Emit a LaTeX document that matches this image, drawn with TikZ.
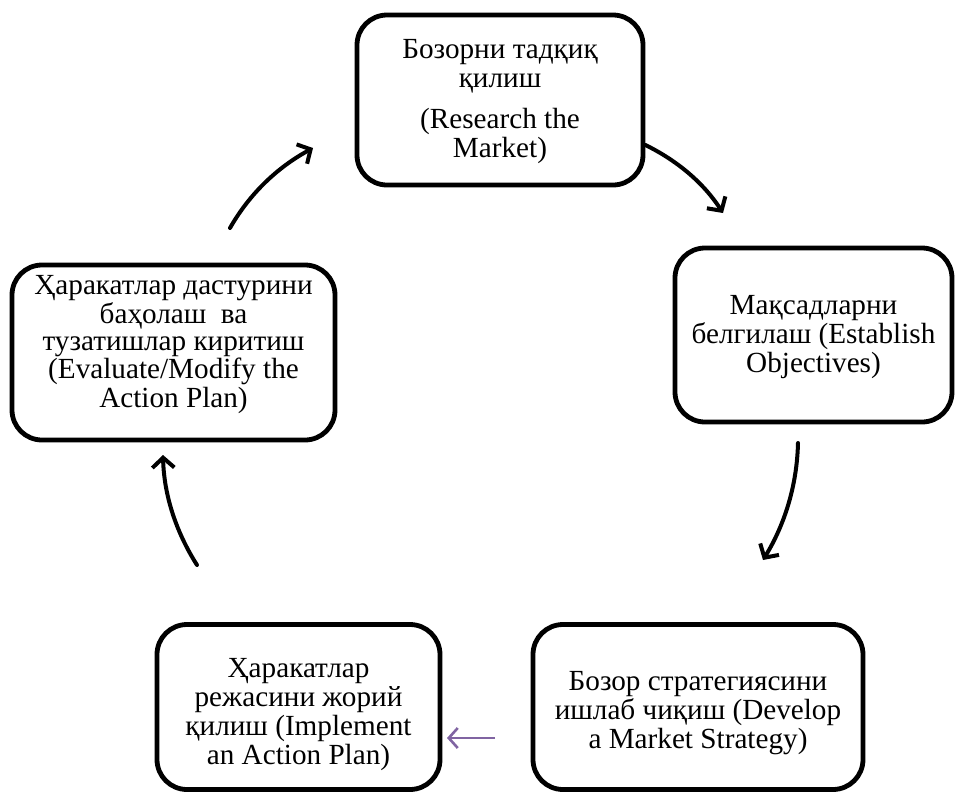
\documentclass[tikz,border=0pt]{standalone}
\usepackage{fontspec}
\setmainfont{Liberation Serif}
\usetikzlibrary{arrows.meta}
\definecolor{arrowpurple}{RGB}{128,100,162}
\begin{document}
\begin{tikzpicture}[x=0.5pt,y=-0.5pt,
  stage/.style={draw=black, line width=2.4pt, rounded corners=15pt, inner sep=0pt},
  stagetext/.style={align=center, inner sep=0pt,
    font=\fontsize{14.6}{14.5}\selectfont},
  flow/.style={line width=2pt, line cap=round,
    -{Straight Barb[length=5pt,width=11pt,line width=2pt]}},
  sideflow/.style={draw=arrowpurple, line width=1.3pt,
    -{Straight Barb[length=4.5pt,width=10pt,line width=1.3pt]}}]
\useasboundingbox (0,0) rectangle (955,794);

% the five stage frames
\node[stage, minimum width=143pt, minimum height=85pt] (research) at (500,100) {};
\node[stage, minimum width=138.5pt, minimum height=87pt] (objectives) at (813.5,335) {};
\node[stage, minimum width=165pt, minimum height=82.5pt] (strategy) at (698,707) {};
\node[stage, minimum width=141.5pt, minimum height=82.5pt] (implement) at (298.5,707) {};
\node[stage, minimum width=161.5pt, minimum height=87.5pt] (evaluate) at (173.5,352.5) {};

% their labels
\node[stagetext] (research-t) at ([yshift=-1pt]research.center)
  {Бозорни тадқиқ\\ қилиш\\[6pt] (Research the\\ Market)};
\node[stagetext] (objectives-t) at ([yshift=-1pt]objectives.center)
  {Мақсадларни\\ белгилаш (Establish\\ Objectives)};
\node[stagetext] (strategy-t) at ([yshift=-3pt]strategy.center)
  {Бозор стратегиясини\\ ишлаб чиқиш (Develop\\ a Market Strategy)};
\node[stagetext] (implement-t) at ([yshift=-4pt]implement.center)
  {Ҳаракатлар\\ режасини жорий\\ қилиш (Implement\\ an Action Plan)};
\node[stagetext, font=\fontsize{14.6}{13.2}\selectfont] (evaluate-t) at ([yshift=4pt]evaluate.center)
  {Ҳаракатлар дастурини\\ баҳолаш\ \ ва\\ тузатишлар киритиш\\ (Evaluate/Modify the\\ Action Plan)};

% free ends of the curved arrows
\coordinate (a1s) at (230,228);  \coordinate (a1e) at (313,148);
\coordinate (a2s) at (research.east |- 0,145); \coordinate (a2e) at (723,213);
\coordinate (a3s) at (798,443);  \coordinate (a3e) at (763,560);
\coordinate (a4s) at (197,565);  \coordinate (a4e) at (163,455);
\coordinate (a5s) at (495,738);  \coordinate (a5e) at (447,738);

\draw[flow] (a1s) .. controls (250,193) and (278,167) .. (a1e);
\draw[flow] (a2s) .. controls (676,160) and (703,182) .. (a2e);
\draw[flow] (a3s) .. controls (797,485) and (785,524) .. (a3e);
\draw[flow] (a4s) .. controls (176,532) and (164,495) .. (a4e);
\draw[sideflow] (a5s) -- (a5e);
\end{tikzpicture}
\end{document}
